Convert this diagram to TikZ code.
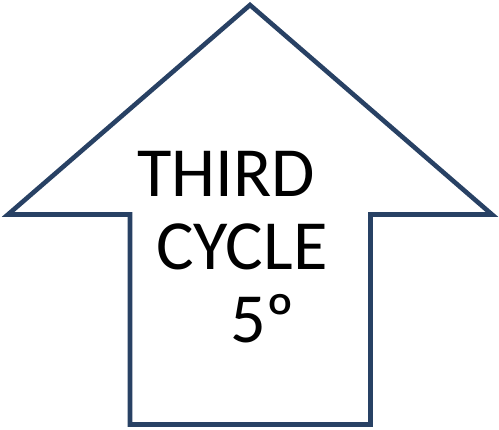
\documentclass[tikz,border=0pt]{standalone}
\usepackage{fontspec}
\setmainfont{Carlito}
\definecolor{arrowblue}{RGB}{40,65,100}
\begin{document}
\begin{tikzpicture}[x=1pt,y=-1pt,
  outline/.style={draw=arrowblue,line width=4.6pt,line join=miter,fill=white},
  label/.style={anchor=base west,inner sep=0pt,font=\fontsize{70.5}{73}\selectfont,text=black}]
\useasboundingbox (0,0) rectangle (499,430);
\draw[outline] (250,5) -- (492,214.5) -- (370.5,214.5) -- (370.5,424.5) -- (130,424.5) -- (130,214.5) -- (8,214.5) -- cycle;
\node[label] (l1) at (137,197) {THIRD};
\node[label] (l2) at (156,270) {CYCLE};
\node[label] (l3) at (230,343) {5º};
\end{tikzpicture}
\end{document}
